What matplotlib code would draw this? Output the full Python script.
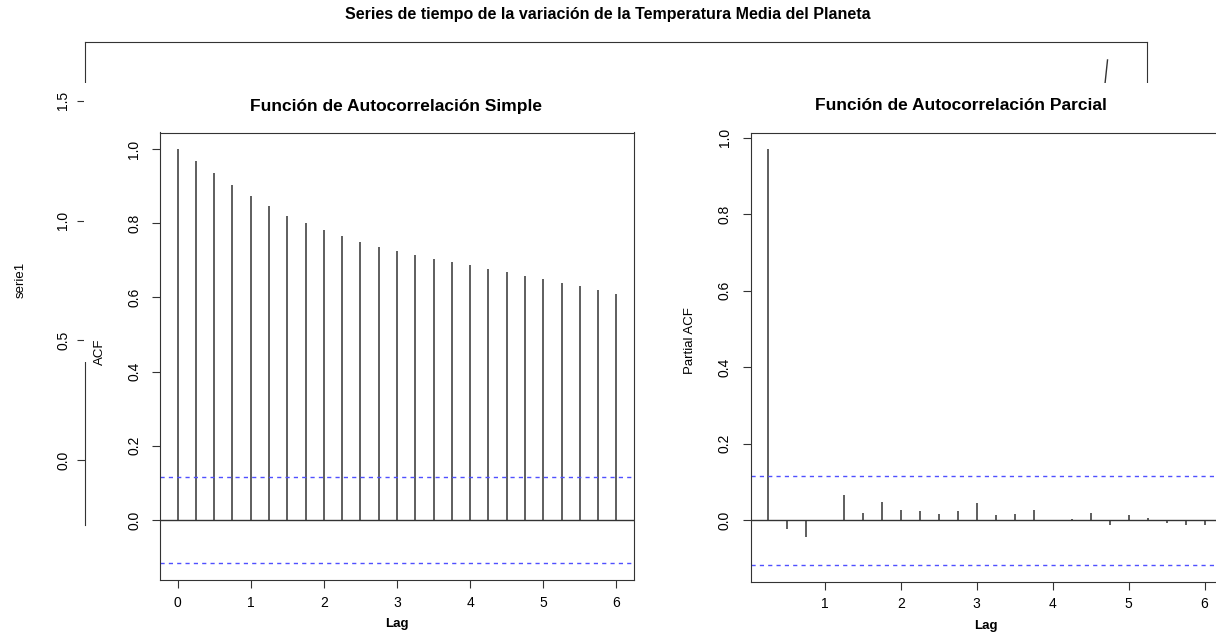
import numpy as np
import matplotlib.pyplot as plt
from matplotlib.patches import Rectangle

plt.rcParams['font.family'] = ['Liberation Sans', 'DejaVu Sans']

# fragmento visible de la serie de fondo
serie_t = [2020.0, 2020.35]
serie_v = [1.575, 1.671]

# ACF (lags 0 .. 6, paso 0.25)
acf_lag = np.arange(0, 6.01, 0.25)
acf_val = [1.000, 0.969, 0.937, 0.904, 0.873, 0.847, 0.821, 0.800, 0.782,
           0.765, 0.751, 0.737, 0.726, 0.715, 0.705, 0.696, 0.687, 0.677,
           0.669, 0.659, 0.650, 0.640, 0.631, 0.620, 0.610]

# PACF (lags 0.25 .. 6)
pacf_lag = np.arange(0.25, 6.01, 0.25)
pacf_val = [0.970, -0.023, -0.043, -0.002, 0.065, 0.020, 0.047, 0.027,
            0.024, 0.017, 0.025, 0.044, 0.013, 0.016, 0.028, 0.002,
            0.003, 0.018, -0.012, 0.015, 0.006, -0.006, -0.013, -0.012]

conf = 0.117

W, H = 1216, 632


def box(l, r, t, b):
    return [l / W, 1 - b / H, (r - l) / W, (b - t) / H]


fig = plt.figure(figsize=(12.16, 6.32), dpi=100)
line_c = '#333333'
blue_c = '#5050ff'

# grafico de fondo (serie de tiempo)
ax0 = fig.add_axes(box(85, 1147, 42, 525))
ax0.plot(serie_t, serie_v, color=line_c, lw=1)
ax0.set_xlim(1874, 2026)
ax0.set_ylim(-0.271, 1.746)
ax0.set_xticks([])
ax0.set_yticks([0.0, 0.5, 1.0, 1.5])
ax0.set_yticklabels(['0.0', '0.5', '1.0', '1.5'])
ax0.spines['bottom'].set_visible(False)
for s in ax0.spines.values():
    s.set_color(line_c)
ax0.tick_params(axis='y', direction='out', length=5.5, width=0.8, color=line_c,
                labelrotation=90, labelsize=10, pad=5)
for lab in ax0.get_yticklabels():
    lab.set_va('center')
ax0.set_ylabel('serie1', fontsize=9.5)
ax0.yaxis.set_label_coords(-0.055, 0.507)

# parches blancos encima del fondo
for (l, r, t, b) in [(84, 1216, 83, 362), (87, 1216, 362, 632)]:
    ax0.add_patch(Rectangle((l / W, 1 - b / H), (r - l) / W, (b - t) / H,
                            transform=fig.transFigure, facecolor='white',
                            edgecolor='none', clip_on=False, zorder=10))


def style(ax, ylab, ly):
    for s in ax.spines.values():
        s.set_color(line_c)
    ax.tick_params(direction='out', length=5.5, width=0.8, color=line_c, labelsize=10)
    ax.tick_params(axis='y', labelrotation=90, pad=8)
    ax.tick_params(axis='x', pad=6)
    for lab in ax.get_yticklabels():
        lab.set_va('center')
    ax.set_xlabel('Lag', fontsize=9.5, fontweight='bold', labelpad=6)
    ax.set_ylabel(ylab, fontsize=9.5)
    ax.yaxis.set_label_coords(-0.115, ly)


# ACF
ax1 = fig.add_axes(box(160, 634, 132.5, 580))
ax1.set_facecolor('none')
ax1.vlines(acf_lag, 0, acf_val, color=line_c, lw=1.1)
ax1.axhline(0, color=line_c, lw=1)
for c in (conf, -conf):
    ax1.axhline(c, color=blue_c, lw=1, ls=(0, (3, 3)))
ax1.set_xlim(-0.24, 6.24)
ax1.set_ylim(-0.162, 1.045)
ax1.set_xticks(range(7))
ax1.set_yticks([0.0, 0.2, 0.4, 0.6, 0.8, 1.0])
ax1.set_yticklabels(['0.0', '0.2', '0.4', '0.6', '0.8', '1.0'])
style(ax1, 'ACF', 0.51)

# PACF
ax2 = fig.add_axes(box(750.5, 1222, 132.5, 581.5))
ax2.set_facecolor('none')
ax2.vlines(pacf_lag, 0, pacf_val, color=line_c, lw=1.1)
ax2.axhline(0, color=line_c, lw=1)
for c in (conf, -conf):
    ax2.axhline(c, color=blue_c, lw=1, ls=(0, (3, 3)))
ax2.set_xlim(0.02, 6.23)
ax2.set_ylim(-0.16, 1.0135)
ax2.set_xticks(range(1, 7))
ax2.set_yticks([0.0, 0.2, 0.4, 0.6, 0.8, 1.0])
ax2.set_yticklabels(['0.0', '0.2', '0.4', '0.6', '0.8', '1.0'])
style(ax2, 'Partial ACF', 0.536)

fig.text(608 / W, 1 - 14 / H,
         'Series de tiempo de la variación de la Temperatura Media del Planeta',
         ha='center', va='center', fontsize=11.5, fontweight='bold')
fig.text(396 / W, 1 - 106 / H, 'Función de Autocorrelación Simple',
         ha='center', va='center', fontsize=12.5, fontweight='bold')
fig.text(961 / W, 1 - 106 / H, 'Función de Autocorrelación Parcial',
         ha='center', va='center', fontsize=12.5, fontweight='bold')

fig.savefig('out.png', dpi=100)
